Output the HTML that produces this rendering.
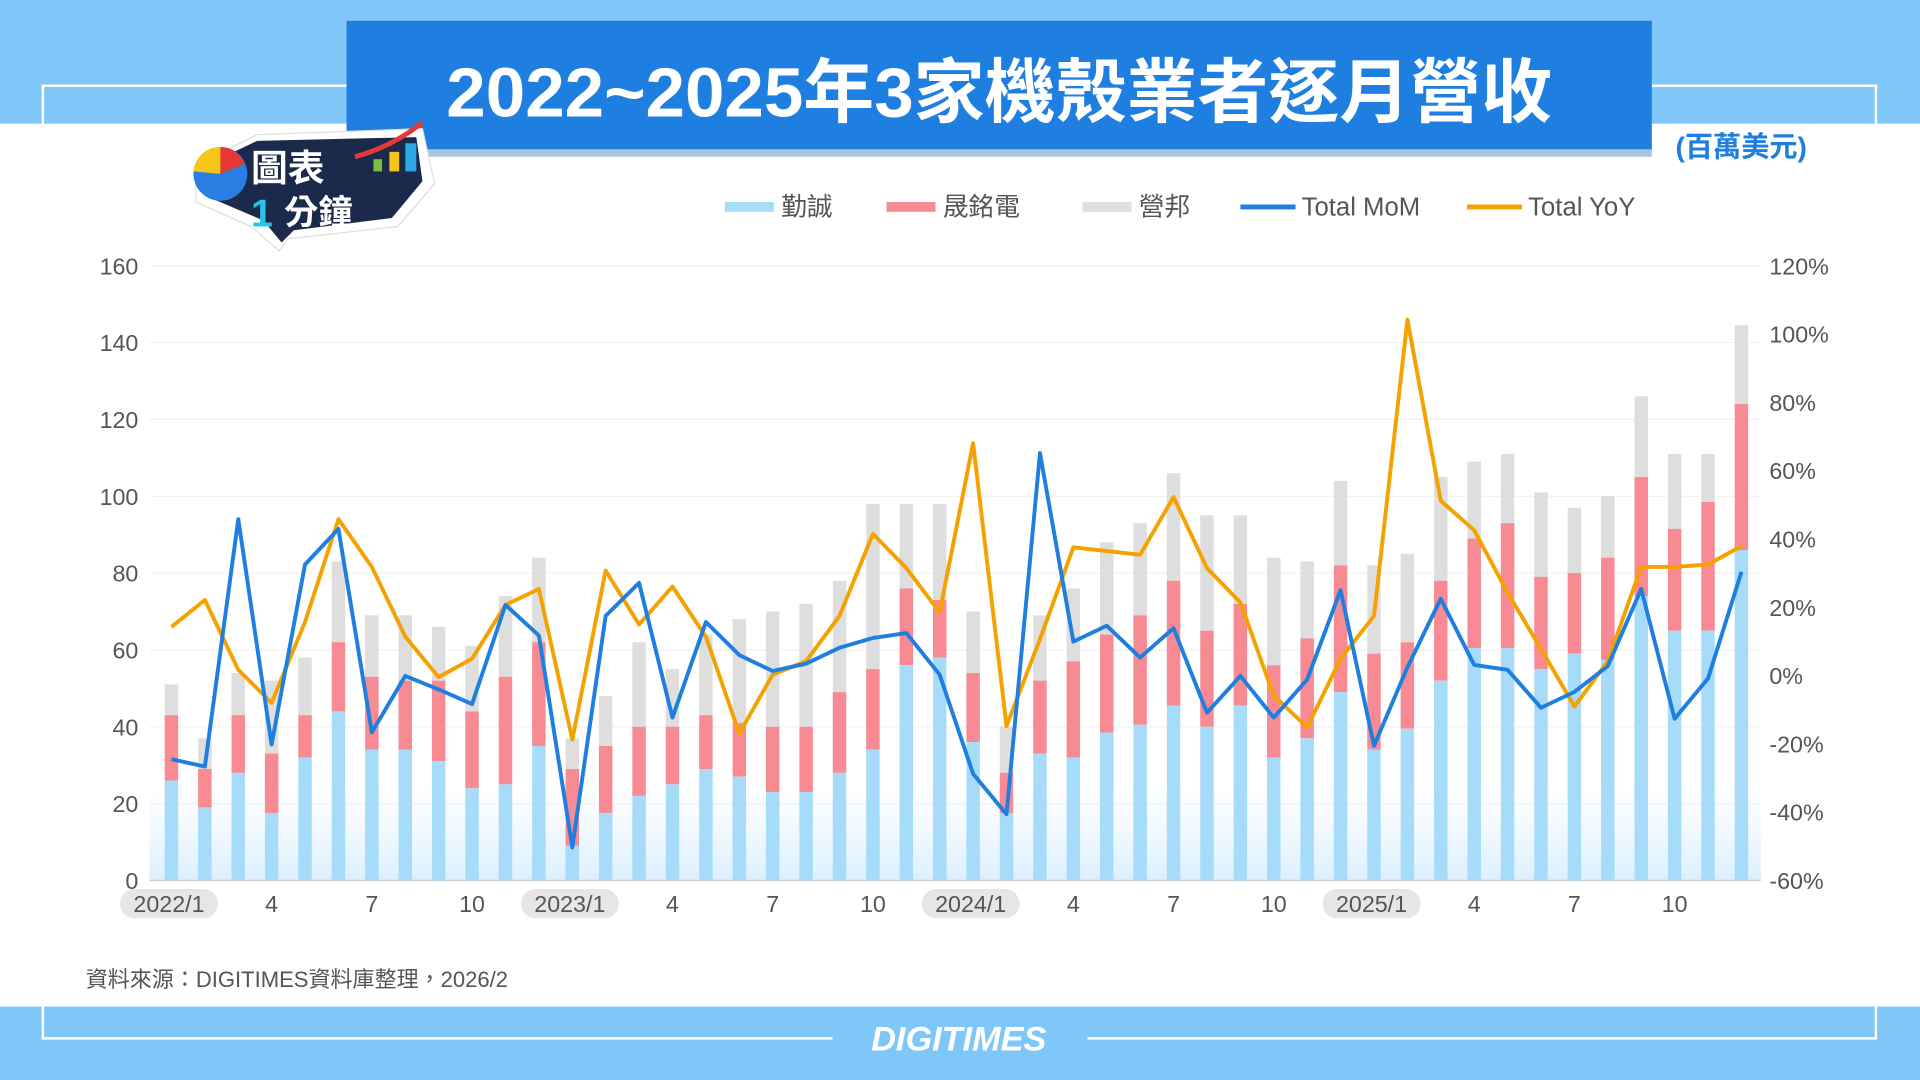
<!DOCTYPE html>
<html><head><meta charset="utf-8"><style>
html,body{margin:0;padding:0;background:#fff}
svg{display:block}
text{font-family:"Liberation Sans","Noto Sans CJK TC",sans-serif}
</style></head><body>
<svg id="s" width="1920" height="1080" viewBox="0 0 1568 882" xmlns="http://www.w3.org/2000/svg">
<defs>
<linearGradient id="fade" x1="0" y1="0" x2="0" y2="1">
<stop offset="0" stop-color="#e8f4fd" stop-opacity="0"/>
<stop offset="1" stop-color="#dcefff" stop-opacity="1"/>
</linearGradient>
</defs>
<rect x="0" y="0" width="1568" height="882" fill="#fff"/>
<rect x="0" y="0" width="1568" height="101" fill="#7fc7f8"/>
<rect x="0" y="822" width="1568" height="60" fill="#7fc7f8"/>
<path d="M35 101 V70 H1532 V101" fill="none" stroke="#fff" stroke-width="2"/>
<path d="M35 822 V848 H680 M888 848 H1532 V822" fill="none" stroke="#fff" stroke-width="2"/>
<rect x="283" y="17" width="1066" height="105" fill="#1f7fe0"/>
<rect x="283" y="122" width="1066" height="6" fill="#a9c5de"/>
<text x="816" y="95" font-size="57" font-weight="bold" fill="#fff" text-anchor="middle" textLength="903" lengthAdjust="spacingAndGlyphs">2022~2025年3家機殼業者逐月營收</text>
<text x="1422" y="128" font-size="23" font-weight="bold" fill="#1f7fe0" text-anchor="middle">(百萬美元)</text>
<!-- logo -->
<g>
<path d="M160 135 L210 110 L345 105 L355 150 L325 185 L235 195 L228 205 L205 185 L160 165Z" fill="#fff" stroke="#ddd" stroke-width="1"/>
<path d="M168 135 L210 115 L340 112 L345 148 L320 178 L240 188 L230 198 L215 180 L168 160Z" fill="#1b2a4a"/>
<circle cx="180" cy="142" r="22" fill="#2a7de1"/>
<path d="M180 142 L180 120 A22 22 0 0 0 158 140Z" fill="#f5c518"/>
<path d="M180 142 L180 120 A22 22 0 0 1 200 134Z" fill="#e53935"/>
<text x="205" y="148" font-size="30" font-weight="bold" fill="#fff">圖表</text>
<text x="205" y="185" font-size="32" font-weight="bold" fill="#29c4e8">1</text>
<text x="232" y="183" font-size="28" font-weight="bold" fill="#fff">分鐘</text>
<rect x="305" y="130" width="7" height="10" fill="#7bc043"/>
<rect x="318" y="124" width="8" height="16" fill="#f5c518"/>
<rect x="331" y="117" width="9" height="23" fill="#2aa8e8"/>
<path d="M290 128 Q320 120 345 100" stroke="#e53935" stroke-width="4" fill="none"/>
</g>
<!-- legend -->
<g font-size="21" fill="#555">
<rect x="592" y="165" width="40" height="8" fill="#a6dcfa"/><text x="638" y="176">勤誠</text>
<rect x="724" y="165" width="40" height="8" fill="#f78a93"/><text x="770" y="176">晟銘電</text>
<rect x="884" y="165" width="40" height="8" fill="#dedede"/><text x="930" y="176">營邦</text>
<rect x="1013" y="167" width="45" height="4" fill="#1f7fe0"/><text x="1063" y="176">Total MoM</text>
<rect x="1198" y="167" width="45" height="4" fill="#f5a100"/><text x="1248" y="176">Total YoY</text>
</g>
<rect x="122" y="640" width="1316" height="79" fill="url(#fade)"/>
<g id="grid"></g>
<g id="bars"></g>
<g id="lines"></g>
<g id="axes" font-size="19" fill="#555"></g>
<text x="70" y="806" font-size="18" fill="#555">資料來源：DIGITIMES資料庫整理，2026/2</text>
<text x="783" y="858" font-size="28" font-weight="bold" fill="#fff" text-anchor="middle" font-style="italic">DIGITIMES</text>
</svg>
<script>
var NS="http://www.w3.org/2000/svg";
function el(p,t,a,txt){var e=document.createElementNS(NS,t);for(var k in a)e.setAttribute(k,a[k]);if(txt!=null)e.textContent=txt;document.getElementById(p).appendChild(e);return e;}
var b=[26,19,28,17.5,32,44,34,34,31,24,25,35,9,17.5,22,25,29,27,23,23,28,34,56,58,36,17.5,33,32,38.5,40.5,45.5,40,45.5,32,37,49,34,39.5,52,60.5,60.5,55,59,57.5,74,65,65,86];
var r=[43,29,43,33,43,62,53,52,52,44,53,62,29,35,40,40,43,41,40,40,49,55,76,73,54,28,52,57,64,69,78,65,72,56,63,82,59,62,78,89,93,79,80,84,105,91.5,98.5,124];
var g=[51,37,54,52,58,83,69,69,66,61,74,84,37,48,62,55,64,68,70,72,78,98,98,98,70,40,69,76,88,93,106,95,95,84,83,104,82,85,105,109,111,101,97,100,126,111,111,144.5];
var mom=[620,626,424,608,461,432,598,552,563,575,494,519,692,503,476,586,508,535,548,542,529,521,517,551,632,665,370,524,511,537,513,582,552,586,555,482,609,545,489,543,547,578,565,544,481,587,554,467];
var yoy=[512,490,547,574,508,424,463,520,553,538,494,481,604,466,510,479,520,599,551,540,503,436,464,500,362,593,522,447,450,453,406,464,492,568,594,538,503,261,409,433,484,530,577,540,463,463,461,446];
var y0=719,k=(719-217)/160;
function Y(v){return y0-v*k;}
for(var i=0;i<=8;i++){var y=Y(i*20);el("grid","line",{x1:122,x2:1438,y1:y,y2:y,stroke:i?"#f0f0f0":"#ccc","stroke-width":1});
el("axes","text",{x:113,y:y+7,"text-anchor":"end"},String(i*20));}
for(var i=0;i<=9;i++){var y=719-i*(502/9);el("axes","text",{x:1445,y:y+7},(i*20-60)+"%");}
function X(i){return 140+i*27.28;}
for(var i=0;i<48;i++){var x=X(i)-5.5;
el("bars","rect",{x:x,y:Y(g[i]),width:11,height:(g[i]-r[i])*k,fill:"#dedede"});
el("bars","rect",{x:x,y:Y(r[i]),width:11,height:(r[i]-b[i])*k,fill:"#f78a93"});
el("bars","rect",{x:x,y:Y(b[i]),width:11,height:b[i]*k,fill:"#a6dcfa"});}
function pl(a,c){var p=a.map(function(v,i){return X(i).toFixed(1)+","+v}).join(" ");el("lines","polyline",{points:p,fill:"none",stroke:c,"stroke-width":3.2,"stroke-linejoin":"round"});}
pl(yoy,"#f5a100");pl(mom,"#1f7fe0");
var labs=["2022/1","2023/1","2024/1","2025/1"];
for(var yr=0;yr<4;yr++){var x=X(yr*12);
el("axes","rect",{x:x-42,y:726,width:80,height:24,rx:12,fill:"#e6e6e6"});
el("axes","text",{x:x-2,y:745,"text-anchor":"middle"},labs[yr]);
[3,6,9].forEach(function(m){el("axes","text",{x:X(yr*12+m),y:745,"text-anchor":"middle"},String(m+1));});}
</script>
</body></html>
